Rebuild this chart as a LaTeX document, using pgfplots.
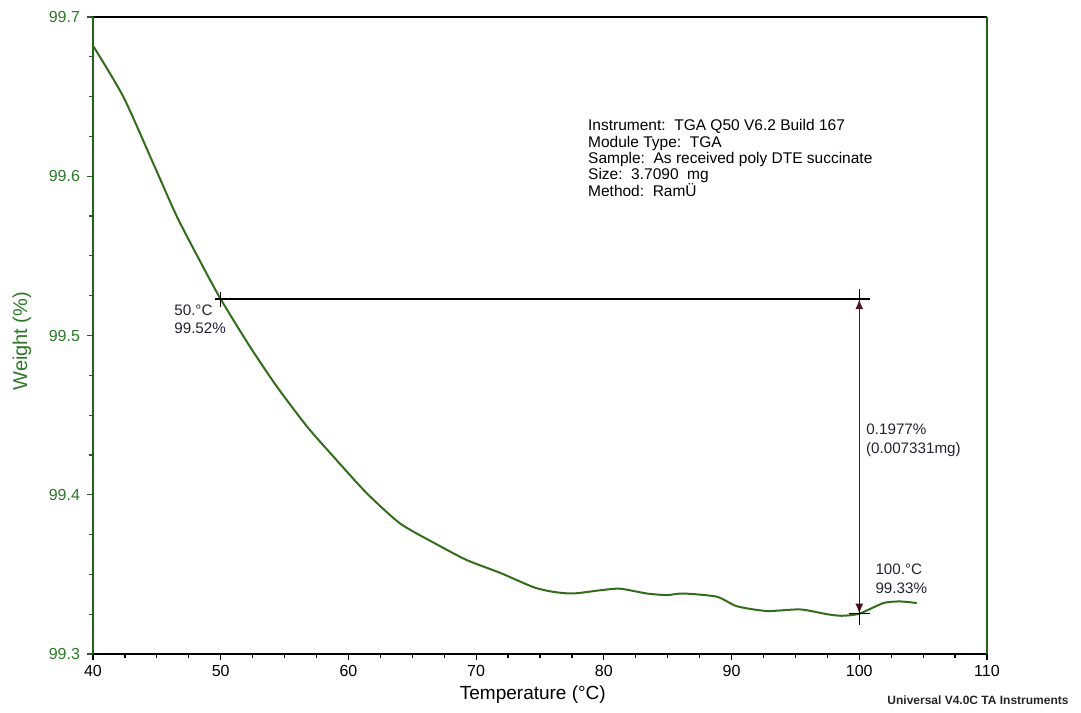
\documentclass[border=0pt]{standalone}
\usepackage{fontspec}
\setmainfont{Liberation Sans}
\usepackage{pgfplots}
\pgfplotsset{compat=1.18}
\usetikzlibrary{arrows.meta}

\definecolor{tgagreen}{RGB}{52,108,30}
\definecolor{axgreen}{RGB}{40,95,30}
\definecolor{labgreen}{RGB}{45,120,40}
\definecolor{arrowred}{RGB}{80,20,35}
\definecolor{annot}{RGB}{35,35,55}

\begin{document}
\begin{tikzpicture}
\useasboundingbox (-46.5pt,-29pt) rectangle (494pt,327pt);
\begin{axis}[
  scale only axis, width=447pt, height=318.5pt,
  xmin=40, xmax=110, ymin=99.3, ymax=99.7,
  xtick={40,50,60,70,80,90,100,110},
  ytick={99.3,99.4,99.5,99.6,99.7},
  minor x tick num=3, minor y tick num=3,
  tick align=outside, tick pos=left,
  major tick length=3pt, minor tick length=2.2pt,
  separate axis lines,
  x axis line style={black, line width=1.1pt},
  y axis line style={axgreen, line width=0.8pt},
  xtick style={black, line width=0.6pt},
  ytick style={axgreen, line width=0.6pt},
  /pgf/number format/assume math mode=true,
  tick label style={font=\fontsize{8}{9}\selectfont},
  yticklabel style={labgreen, /pgf/number format/.cd, fixed, precision=1, fixed zerofill},
  xticklabel style={black, yshift=1pt},
  xlabel={Temperature (°C)},
  ylabel={Weight (\%)},
  xlabel style={font=\fontsize{9.5}{11}\selectfont, at={(axis description cs:0.492,-0.0722)}, anchor=base},
  ylabel style={font=\fontsize{10}{11}\selectfont, labgreen, at={(axis description cs:-0.0794,0.491)}, anchor=center, rotate=0},
  clip=false,
]
\addplot[tgagreen, line width=1pt, smooth, tension=0.4] coordinates {
  (40.00,99.682) (42.37,99.650) (44.72,99.608) (46.55,99.575)
  (48.36,99.547) (50.00,99.5228) (52.29,99.493) (54.39,99.468)
  (56.74,99.443) (58.82,99.424) (61.43,99.401) (64.04,99.382)
  (66.65,99.370) (69.26,99.359) (71.87,99.351) (74.48,99.342)
  (76.05,99.339) (77.61,99.338) (79.70,99.340) (81.27,99.341)
  (83.36,99.338) (84.93,99.337) (86.23,99.338) (88.84,99.336)
  (90.41,99.330) (92.76,99.327) (95.37,99.328) (97.46,99.325)
  (98.63,99.324) (100.00,99.3253) (101.89,99.332) (103.19,99.333)
  (104.50,99.332)
};

% step-change construction between 50 and 100 degC
\draw[black, line width=0.7pt] (axis cs:49.55,99.5228) -- (axis cs:100.8,99.5228);
\draw[black, line width=0.7pt] (axis cs:50,99.5275) -- (axis cs:50,99.518);
\draw[black, line width=0.7pt] (axis cs:100,99.529) -- (axis cs:100,99.516);
\draw[arrowred, line width=0.7pt, {Latex[length=5pt,width=4pt]}-{Latex[length=5pt,width=4pt]}]
  (axis cs:100,99.5228) -- (axis cs:100,99.3253);
\draw[black, line width=0.7pt] (axis cs:99.2,99.3253) -- (axis cs:100.8,99.3253);
\draw[black, line width=0.7pt] (axis cs:100,99.332) -- (axis cs:100,99.318);

\begin{scope}[every node/.style={anchor=base west, inner sep=0pt, text=annot, font=\fontsize{7.6}{9}\selectfont}]
\node at (axis cs:46.34,99.5123) {50.°C};
\node at (axis cs:46.34,99.5010) {99.52\%};
\node at (axis cs:100.53,99.4376) {0.1977\%};
\node at (axis cs:100.50,99.4260) {(0.007331mg)};
\node at (axis cs:101.24,99.3497) {100.°C};
\node at (axis cs:101.24,99.3382) {99.33\%};
\end{scope}

\begin{scope}[every node/.style={anchor=base west, inner sep=0pt, text=black, font=\fontsize{7.75}{8.3}\selectfont}]
\node at (axis cs:78.74,99.6286) {Instrument:\ \ TGA Q50 V6.2 Build 167};
\node at (axis cs:78.74,99.6182) {Module Type:\ \ TGA};
\node at (axis cs:78.74,99.6077) {Sample:\ \ As received poly DTE succinate};
\node at (axis cs:78.74,99.5977) {Size:\ \ 3.7090\ \ mg};
\node at (axis cs:78.74,99.5872) {Method:\ \ RamÜ};
\end{scope}
\end{axis}
\node[anchor=center, inner sep=0pt, font=\fontsize{6}{7}\selectfont\bfseries, text=black!85] at (442.5pt,-23pt) {Universal V4.0C TA Instruments};
\end{tikzpicture}
\end{document}
